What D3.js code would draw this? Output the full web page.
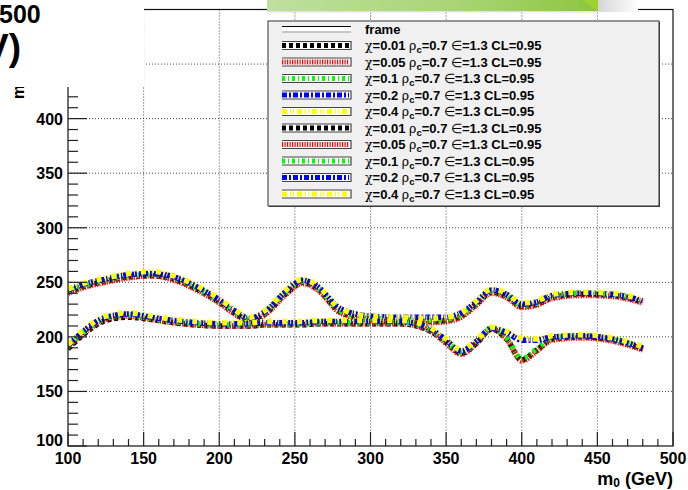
<!DOCTYPE html>
<html><head><meta charset="utf-8">
<script src="https://cdn.jsdelivr.net/npm/d3@7"></script>
<style>body{margin:0;background:#fff}svg{display:block}</style>
</head><body>
<svg id="c" width="688" height="490"></svg>
<script>
// ---- data ----
const xs = [100,110,125,140,155,170,185,200,210,220,230,245,255,265,280,300,320,340,350,360,370,380,390,400,410,420,440,460,480];
const chiLabels = ["0.01","0.05","0.1","0.2","0.4"];
const upper001 = [241,246,251,255,256,253,244,232,222,215,221,241,250,244,223,216,215,214,215,219,230,241,237,228,230,236,239,238,232];
const upper005 = [240,245,250,254,256,252,243,231,221,214,220,240,249,243,222,215,214,213,214,218,229,240,236,227,229,235,238,237,231];
const upper01  = [242,247,252,256,257,254,245,233,223,216,222,242,251,245,224,217,216,215,216,220,231,242,238,229,231,237,240,239,233];
const upper02  = [243,248,253,257,258,255,246,234,224,217,223,243,252,246,226,219,218,218,218,222,232,243,239,230,232,238,240,239,233];
const upper04  = [244,249,254,258,260,256,247,235,225,218,224,244,253,247,226,219,218,217,218,222,233,244,240,231,233,239,241,240,234];
const lower001 = [189,202,215,218,216,213,211,210,210,210,211,211,211,212,212,212,212,205,195,185,194,207,198,179,188,198,200,197,189];
const lower005 = [190,203,216,219,216,213,211,210,210,210,211,211,212,212,212,212,212,205,194,184,194,207,198,178,187,197,199,196,188];
const lower01  = [191,204,217,220,217,214,212,211,211,211,212,212,212,213,213,213,213,206,196,186,195,208,199,180,189,199,201,198,190];
const lower02  = [192,205,218,221,218,215,213,212,212,212,213,213,213,214,214,214,214,207,197,187,196,208,204,197,197,200,201,198,190];
const lower04  = [193,206,219,222,219,216,214,213,213,213,214,214,214,215,215,215,215,208,198,188,197,209,205,199,198,201,202,199,191];
const xTicks = [100,150,200,250,300,350,400,450,500];
const yTicks = [100,150,200,250,300,350,400,450,500];

const colors = ["#000000","#ff0000","#00ff00","#0000ff","#ffff00"];
const dashes = ["4,3","1.2,1.3","3,3,1,3","5,2,2,2","5,3,1,2,1,3"];
const upperSets = [upper001,upper005,upper01,upper02,upper04];
const lowerSets = [lower001,lower005,lower01,lower02,lower04];

// ---- layout ----
const svg = d3.select("#c");
const L = 68, R = 673, T = 9.5, B = 446;
const x = d3.scaleLinear().domain([100,500]).range([L,R]);
const y = d3.scaleLinear().domain([100,500]).range([B,T]);

svg.append("rect").attr("width",688).attr("height",490).attr("fill","#fff");

// grid
const g = svg.append("g");
g.selectAll(".gx").data(xTicks.filter(d=>d>100&&d<500)).enter().append("line")
  .attr("x1",d=>x(d)).attr("x2",d=>x(d)).attr("y1",T).attr("y2",B)
  .attr("stroke","#444").attr("stroke-width",1).attr("stroke-dasharray","1,2");
g.selectAll(".gy").data(yTicks.filter(d=>d>100&&d<500)).enter().append("line")
  .attr("y1",d=>y(d)).attr("y2",d=>y(d)).attr("x1",L).attr("x2",R)
  .attr("stroke","#444").attr("stroke-width",1).attr("stroke-dasharray","1,2");

// curves
svg.append("clipPath").attr("id","pc").append("rect").attr("x",L).attr("y",T).attr("width",R-L).attr("height",B-T);
const line = d3.line().x((d,i)=>x(xs[i])).y(d=>y(d)).curve(d3.curveMonotoneX);
const cg = svg.append("g").attr("clip-path","url(#pc)");
[upperSets, lowerSets].forEach(sets=>{
  sets.forEach((s,i)=>{
    cg.append("path").attr("d",line(s)).attr("fill","none")
      .attr("stroke",colors[i]).attr("stroke-width",5.5)
      .attr("stroke-dasharray",dashes[i]);
  });
});

// frame
svg.append("rect").attr("x",L).attr("y",T).attr("width",R-L).attr("height",B-T)
  .attr("fill","none").attr("stroke","#111").attr("stroke-width",1.2);

// ticks
const tk = svg.append("g").attr("stroke","#222").attr("stroke-width",1.2);
d3.range(100,501,10).forEach(v=>{
  const major = v%50===0;
  tk.append("line").attr("x1",x(v)).attr("x2",x(v)).attr("y1",B).attr("y2",B-(major?14:7));
  tk.append("line").attr("y1",y(v)).attr("y2",y(v)).attr("x1",L).attr("x2",L+(major?19:10));
});

// tick labels
const tf = "'Liberation Sans',Arial,Helvetica,sans-serif";
svg.append("g").selectAll("text").data(xTicks).enter().append("text")
  .attr("x",d=>x(d)).attr("y",B+18).attr("text-anchor","middle")
  .attr("font-family",tf).attr("font-weight","bold").attr("font-size",16).text(d=>d);
svg.append("g").selectAll("text").data(yTicks.filter(d=>d<450)).enter().append("text")
  .attr("x",L-5).attr("y",d=>y(d)+(d===100?0:6)).attr("text-anchor","end")
  .attr("font-family",tf).attr("font-weight","bold").attr("font-size",16).text(d=>d);

// x title
const xt = svg.append("text").attr("x",R).attr("y",485).attr("text-anchor","end")
  .attr("font-family",tf).attr("font-weight","bold").attr("font-size",18);
xt.append("tspan").text("m");
xt.append("tspan").attr("font-size",12).attr("dy",2).text("0");
xt.append("tspan").attr("dy",-2).text(" (GeV)");

// y title (only its first glyph is visible below the overlay panel)
svg.append("text").attr("transform","translate(24,99) rotate(-90)")
  .attr("font-family",tf).attr("font-weight","bold").attr("font-size",16).text("m");

// top-left cover panel
svg.append("rect").attr("x",0).attr("y",0).attr("width",144).attr("height",87).attr("fill","#fff");
svg.append("text").attr("x",-1).attr("y",23).attr("font-family",tf).attr("font-weight","bold")
  .attr("font-size",25).text("500");
svg.append("text").attr("x",21).attr("y",60).attr("text-anchor","end").attr("font-family",tf)
  .attr("font-weight","bold").attr("font-size",37).text("V)");

// green top bar
const defs = svg.append("defs");
const gr = defs.append("linearGradient").attr("id","gg").attr("x1","0").attr("x2","1").attr("y1","0").attr("y2","0");
gr.append("stop").attr("offset","0").attr("stop-color","#bfe09f");
gr.append("stop").attr("offset","0.6").attr("stop-color","#a7d473");
gr.append("stop").attr("offset","1").attr("stop-color","#8cc63f");
const sh = defs.append("linearGradient").attr("id","sh").attr("x1","0").attr("x2","1");
sh.append("stop").attr("offset","0").attr("stop-color","#d5d5d5");
sh.append("stop").attr("offset","1").attr("stop-color","#ffffff");
svg.append("rect").attr("x",598).attr("y",0).attr("width",40).attr("height",12).attr("fill","url(#sh)");
svg.append("rect").attr("x",267).attr("y",0).attr("width",331).attr("height",11).attr("fill","url(#gg)");
svg.append("path").attr("d","M582,0 L598,0 L598,11 Z").attr("fill","#9dd22a");
svg.append("rect").attr("x",267).attr("y",11).attr("width",331).attr("height",1.5).attr("fill","#e2e2e2");

// legend
const lgX = 268, lgY = 21, lgW = 391, lgH = 185;
svg.append("rect").attr("x",lgX+1).attr("y",lgY+1).attr("width",lgW).attr("height",lgH).attr("fill","#444");
svg.append("rect").attr("x",lgX).attr("y",lgY).attr("width",lgW).attr("height",lgH)
  .attr("fill","#f0f0f0").attr("stroke","#333").attr("stroke-width",1);
const rowY = i => 29 + i*16.5;
const sx0 = 282, sx1 = 351;
// frame entry
svg.append("rect").attr("x",sx0).attr("y",rowY(0)-2.5).attr("width",sx1-sx0).attr("height",5).attr("fill","#fff");
svg.append("line").attr("x1",sx0).attr("x2",sx1).attr("y1",rowY(0)-2.5).attr("y2",rowY(0)-2.5).attr("stroke","#000").attr("stroke-width",1.2);
svg.append("line").attr("x1",sx0).attr("x2",sx1).attr("y1",rowY(0)+3).attr("y2",rowY(0)+3).attr("stroke","#999").attr("stroke-width",1);
svg.append("text").attr("x",365).attr("y",rowY(0)+4.5).attr("font-family",tf).attr("font-weight","bold")
  .attr("font-size",13).text("frame");
for(let k=0;k<10;k++){
  const i = k%5, yy = rowY(k+1);
  svg.append("rect").attr("x",sx0).attr("y",yy-4).attr("width",sx1-sx0).attr("height",8).attr("fill","#fff");
  svg.append("path").attr("d",`M${sx0},${yy-4} H${sx1} V${yy+4} H${sx0}`).attr("fill","none")
    .attr("stroke","#444").attr("stroke-width",1.2);
  svg.append("line").attr("x1",sx0).attr("x2",sx1-2).attr("y1",yy).attr("y2",yy)
    .attr("stroke",colors[i]).attr("stroke-width",5).attr("stroke-dasharray",dashes[i]);
  const t = svg.append("text").attr("x",365).attr("y",yy+4.5).attr("font-family",tf).attr("font-size",13);
  t.append("tspan").attr("font-family","'DejaVu Serif',serif").attr("font-size",12.5).text("χ");
  t.append("tspan").attr("font-weight","bold").text("="+chiLabels[i]+" ");
  t.append("tspan").attr("font-family","'DejaVu Serif',serif").attr("font-size",12.5).text("ρ");
  t.append("tspan").attr("font-weight","bold").attr("font-size",9.5).attr("dy",3).text("c");
  t.append("tspan").attr("font-weight","bold").attr("dy",-3).text("=0.7 ");
  t.append("tspan").attr("font-size",12.5).text("∈");
  t.append("tspan").attr("font-weight","bold").text("=1.3 CL=0.95");
}
</script>
</body></html>
